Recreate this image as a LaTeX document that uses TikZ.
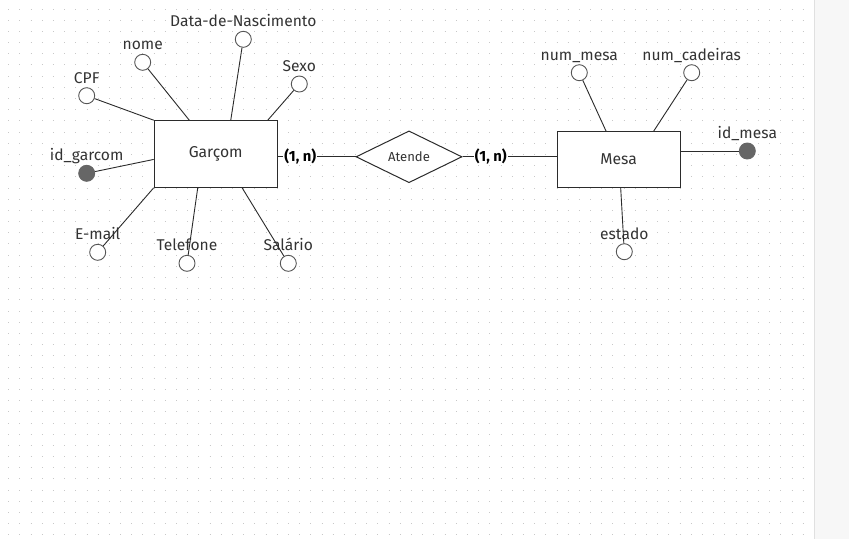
\documentclass[tikz,border=0pt]{standalone}
\usepackage{fontspec}
\setmainfont{Fira Sans}
\usetikzlibrary{shapes.geometric, calc}
\definecolor{er-line}{HTML}{2B2B2B}
\definecolor{er-text}{HTML}{333333}
\definecolor{er-key}{HTML}{666666}
\definecolor{er-grid}{HTML}{C8C8C8}
\definecolor{er-panel}{HTML}{F7F7F7}
\tikzset{
  % Entities and relationship
  er-entity/.style={rectangle, draw=er-line, fill=white, line width=1pt, minimum width=123pt, minimum height=#1, text=er-text, font=\fontsize{15.7}{18}\selectfont},
  er-rel/.style={diamond, draw=er-line, fill=white, line width=1pt, minimum width=106pt, minimum height=50pt, inner sep=0pt, text=er-text, font=\fontsize{13.1}{15}\selectfont},
  % Attributes
  er-attr/.style={circle, draw=er-line!80, fill=white, line width=0.9pt, minimum size=16pt, inner sep=0pt, label={[er-name]center:#1}},
  er-key/.style={circle, draw=er-key, fill=er-key, line width=0.9pt, minimum size=16pt, inner sep=0pt, label={[er-name]center:#1}},
  er-name/.style={yshift=16.5pt, text=er-text, font=\fontsize{15.6}{18}\selectfont, text height=11pt, text depth=3pt, inner sep=0pt},
  er-card/.style={fill=white, inner sep=1pt, text=black, font=\bfseries\fontsize{14.8}{17}\selectfont},
  er-link/.style={draw=er-line, line width=0.9pt}
}
\begin{document}
\begin{tikzpicture}[x=1pt, y=-1pt]
    \useasboundingbox (0,0) rectangle (849,539);
    % background grid
    \fill[white] (0,0) rectangle (814,539);
    \foreach \r in {0,...,47}
        \draw[er-grid, line width=1pt, dash pattern=on 1pt off 10.19pt] (8.2,9+\r*11.19) -- (804,9+\r*11.19);
    \fill[er-panel] (814,0) rectangle (849,539);
    \draw[black!12, line width=0.8pt] (814,0) -- (814,539);

    % --- Garcom ---
    \node[er-entity=66.6pt] (garcom) at (215.7,154) {Garçom};
    \node[er-attr=Data-de-Nascimento] (g-nasc) at (243.3,39.3) {};
    \node[er-attr=nome] (g-nome) at (142.7,62.3) {};
    \node[er-attr=CPF] (g-cpf) at (86.7,95.7) {};
    \node[er-attr=Sexo] (g-sexo) at (299.3,84) {};
    \node[er-key=id\_garcom] (g-id) at (86.7,173.3) {};
    \node[er-attr=E-mail] (g-email) at (97.7,252.3) {};
    \node[er-attr=Telefone] (g-fone) at (187,263.3) {};
    \node[er-attr=Salário] (g-sal) at (288.3,263.3) {};
    \draw[er-link] (g-nasc) -- (garcom.66.8);
    \draw[er-link] (g-nome) -- (garcom.128.4);
    \draw[er-link] (g-cpf) -- (garcom.north west);
    \draw[er-link] (g-sexo) -- (garcom.33.1);
    \draw[er-link] (g-id) -- (garcom.185.6);
    \draw[er-link] (g-email) -- (garcom.south west);
    \draw[er-link] (g-fone) -- (garcom.242.4);
    \draw[er-link] (g-sal) -- (garcom.308.6);

    % --- Mesa ---
    \node[er-entity=55.6pt] (mesa) at (618.7,159.5) {Mesa};
    \node[er-attr=num\_mesa] (m-num) at (579.3,72.7) {};
    \node[er-attr=num\_cadeiras] (m-cad) at (691.7,72.7) {};
    \node[er-key=id\_mesa] (m-id) at (747.3,151) {};
    \node[er-attr=estado] (m-estado) at (624.3,251.7) {};
    \draw[er-link] (m-num) -- (mesa.114.6);
    \draw[er-link] (m-cad) -- (mesa.39.3);
    \draw[er-link] (m-id) -- (mesa.east |- m-id);
    \draw[er-link] (m-estado) -- (mesa.274.7);

    % --- Relationship ---
    \node[er-rel] (atende) at (409,156.8) {Atende};
    \draw[er-link] (garcom.east |- atende) -- (atende.west) node[er-card, pos=0.29] {(1, n)};
    \draw[er-link] (atende.east) -- (mesa.west |- atende) node[er-card, pos=0.3] {(1, n)};
\end{tikzpicture}
\end{document}
